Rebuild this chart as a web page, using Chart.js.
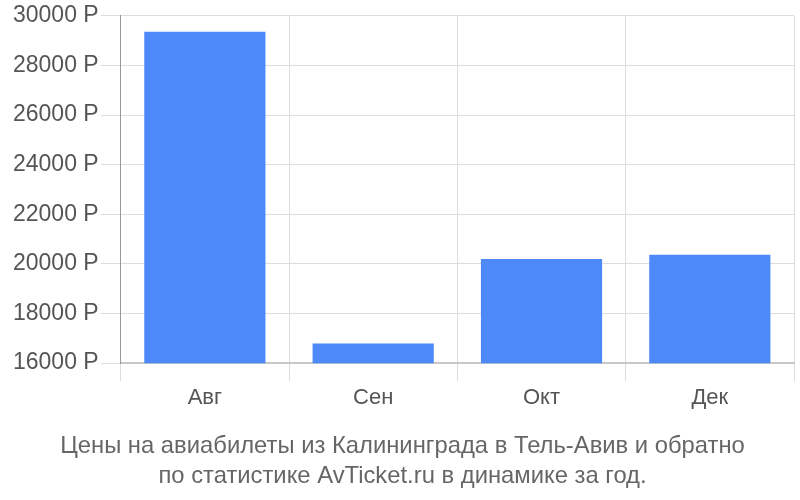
<!DOCTYPE html>
<html>
<head>
<meta charset="utf-8">
<script src="https://cdn.jsdelivr.net/npm/chart.js@4/dist/chart.umd.min.js"></script>
<style>
  html, body { margin: 0; padding: 0; background: #fff; }
  #wrap { width: 800px; height: 500px; }
</style>
</head>
<body>
<div id="wrap"><canvas id="priceChart" width="800" height="500"></canvas></div>
<script>
// данные графика
const months = ['Авг', 'Сен', 'Окт', 'Дек'];
const prices = [29360, 16790, 20200, 20370];
const yTicks = [16000, 18000, 20000, 22000, 24000, 26000, 28000, 30000];
const titleLines = [
  'Цены на авиабилеты из Калининграда в Тель-Авив и обратно',
  'по статистике AvTicket.ru в динамике за год.'
];

const ctx = document.getElementById('priceChart').getContext('2d');

new Chart(ctx, {
  type: 'bar',
  data: {
    labels: months,
    datasets: [{
      data: prices,
      backgroundColor: '#4d89f9',
      borderWidth: 0,
      barPercentage: 0.72,
      categoryPercentage: 1
    }]
  },
  options: {
    responsive: false,
    animation: false,
    layout: { padding: { top: 2, right: 6, left: 11, bottom: 8 } },
    plugins: {
      legend: { display: false },
      tooltip: { enabled: false },
      title: {
        display: true,
        position: 'bottom',
        text: titleLines,
        color: '#666',
        font: { family: '"Liberation Sans Narrow", "Liberation Sans", sans-serif', size: 23.8, weight: 'normal', lineHeight: 1.27 },
        padding: { top: 16, bottom: 0 }
      }
    },
    scales: {
      x: {
        grid: { offset: true, color: '#ddd', tickLength: 18, lineWidth: 1 },
        border: { color: '#c8c8c8', width: 2 },
        ticks: { color: '#555', font: { family: '"Liberation Sans", Arial, sans-serif', size: 22 }, padding: 4 }
      },
      y: {
        min: 16000,
        max: 30000,
        afterBuildTicks: (axis) => { axis.ticks = yTicks.map(v => ({ value: v })); },
        grid: { color: '#ddd', tickLength: 20 },
        border: { color: '#999' },
        ticks: {
          color: '#555',
          font: { family: '"Liberation Sans", Arial, sans-serif', size: 23 },
          padding: 2,
          callback: (v) => v + ' Р'
        }
      }
    }
  }
});
</script>
</body>
</html>
